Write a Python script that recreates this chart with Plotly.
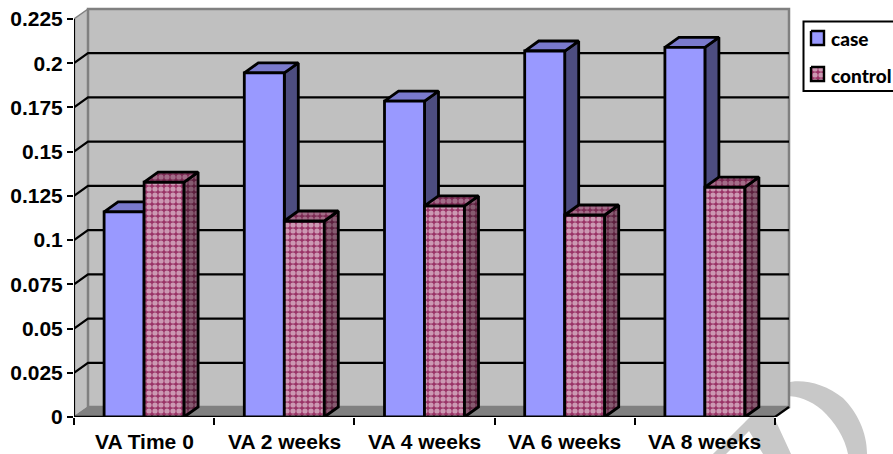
import plotly.graph_objects as go

categories = ["VA Time 0", "VA 2 weeks", "VA 4 weeks", "VA 6 weeks", "VA 8 weeks"]
case_values = [0.116, 0.1945, 0.1786, 0.2069, 0.209]
control_values = [0.1328, 0.1108, 0.1193, 0.1142, 0.13]
y_ticks = [0, 0.025, 0.05, 0.075, 0.1, 0.125, 0.15, 0.175, 0.2, 0.225]
y_labels = ["0", "0.025", "0.05", "0.075", "0.1", "0.125", "0.15", "0.175", "0.2", "0.225"]
series_names = ["case", "control"]

W, H = 893, 454
X0, X1, Y0, Y1 = 74, 789, 417, 9
CAT_W = 140.2
PX_PER_Y = 398 / 0.225
DX = 14 / CAT_W
DY = 10 / PX_PER_Y
BAR = 40 / CAT_W
WALL_R = (X1 - X0) / CAT_W
XMAX = (W - X0) / CAT_W
YMAX = (Y0 - Y1) / PX_PER_Y
YTOP = Y0 / PX_PER_Y
INK = "#000000"
WALL = "#C0C0C0"
EDGE = 2.8


def px_x(p):
    return (p - X0) / CAT_W


def px_y(p):
    return (Y0 - p) / PX_PER_Y


def poly(xs, ys, fill, z, line=INK, lw=EDGE, pattern=None):
    return go.Scatter(x=xs, y=ys, mode="lines", fill="toself", fillcolor=fill,
                      fillpattern=pattern, line=dict(color=line, width=lw),
                      hoverinfo="skip", showlegend=False, zorder=z)


def seg(xs, ys, color=INK, lw=2.2, z=1):
    return go.Scatter(x=xs, y=ys, mode="lines", line=dict(color=color, width=lw),
                      hoverinfo="skip", showlegend=False, zorder=z)


def pat(fg, bg):
    return dict(shape=".", fgcolor=fg, bgcolor=bg, size=6, solidity=0.6)


fig = go.Figure()
fig.add_trace(poly([0, DX, DX, 0, 0], [0, DY, YMAX, YMAX - DY, 0], WALL, 0, "#808080", 1.5))
fig.add_trace(poly([DX, WALL_R, WALL_R, DX, DX], [DY, DY, YMAX, YMAX, DY], WALL, 0, "#808080", 2.5))
fig.add_trace(poly([0, WALL_R - DX, WALL_R, DX, 0], [0, 0, DY, DY, 0], "#808080", 0, "#808080", 1))
for v in y_ticks[1:-1]:
    fig.add_trace(seg([0, DX, WALL_R], [v, v + DY, v + DY]))
fig.add_trace(seg([0, 0], [0, y_ticks[-1]], z=1))
fig.add_trace(seg([0, WALL_R - DX], [0, 0], lw=2.6, z=1))
fig.add_trace(seg([WALL_R - DX, WALL_R], [0, DY], z=1))

cat_x = [i + 0.5 for i in range(len(categories))]
ctrl_pat = pat("#FFFFFF", "#993366")
ctrl_side = pat("#B098A4", "#5C1F3D")
ctrl_top = pat("#CCB0BE", "#7A2952")

for i, x in enumerate(cat_x):
    v = case_values[i]
    fig.add_trace(poly([x, x + DX, x + DX, x, x], [0, DY, v + DY, v, 0], "#4D4D80", 2))
    fig.add_trace(poly([x - BAR, x - BAR + DX, x + DX, x, x - BAR], [v, v + DY, v + DY, v, v], "#7A7ACC", 2))
    v = control_values[i]
    r = x + BAR
    fig.add_trace(poly([r, r + DX, r + DX, r, r], [0, DY, v + DY, v, 0], "#5C1F3D", 5, pattern=ctrl_side))
    fig.add_trace(poly([x, x + DX, r + DX, r, x], [v, v + DY, v + DY, v, v], "#7A2952", 5, pattern=ctrl_top))

fig.add_trace(go.Bar(x=cat_x, y=case_values, name=series_names[0], width=BAR, offset=-BAR, zorder=3,
                     showlegend=False,
                     marker=dict(color="#9999FF", line=dict(color=INK, width=EDGE))))
fig.add_trace(go.Bar(x=cat_x, y=control_values, name=series_names[1], width=BAR, offset=0, zorder=4,
                     showlegend=False,
                     marker=dict(color="#993366", pattern=ctrl_pat, line=dict(color=INK, width=EDGE))))

# legend box and swatches
lx0, lx1, ly0, ly1 = px_x(803.5), px_x(900), px_y(21.5), px_y(91)
fig.add_trace(seg([lx1, lx0, lx0, lx1], [ly0, ly0, ly1, ly1], lw=2, z=6))
sw = [(811, 824, 31, 45), (811, 824, 67, 81)]
fig.add_trace(poly([px_x(sw[0][0]), px_x(sw[0][1]), px_x(sw[0][1]), px_x(sw[0][0]), px_x(sw[0][0])],
                   [px_y(sw[0][2]), px_y(sw[0][2]), px_y(sw[0][3]), px_y(sw[0][3]), px_y(sw[0][2])],
                   "#9999FF", 6, lw=2.4))
fig.add_trace(poly([px_x(sw[1][0]), px_x(sw[1][1]), px_x(sw[1][1]), px_x(sw[1][0]), px_x(sw[1][0])],
                   [px_y(sw[1][2]), px_y(sw[1][2]), px_y(sw[1][3]), px_y(sw[1][3]), px_y(sw[1][2])],
                   "#993366", 6, lw=2.4, pattern=ctrl_pat))
for name, py in zip(series_names, [38, 75]):
    fig.add_annotation(x=px_x(829), y=px_y(py), xanchor="left", yanchor="middle",
                       text=name, showarrow=False,
                       font=dict(size=19, family="Lato", color=INK, weight=900))


def paper_path(cmds):
    out = []
    for c in cmds:
        if isinstance(c, str):
            out.append(c)
        else:
            out.append(f"{(c[0] - X0) / (W - X0):.4f},{(Y0 - c[1]) / Y0:.4f}")
    return " ".join(out)


# grey watermark remnants that show around the chart
arc = ["M", (786, 383), "C", (800, 378), (825, 383), (843, 398), "C", (857, 412), (867, 432), (867, 454),
       "L", (848, 454), "C", (845, 438), (835, 422), (822, 410), "C", (810, 400), (798, 396), (786, 396), "Z"]
wedge = ["M", (745, 422), "L", (752, 415), "L", (773, 415), "L", (791, 454), "L", (763, 454),
         "L", (749, 431), "L", (726, 454), "L", (713, 454), "Z"]
fig.update_layout(
    width=W, height=H, barmode="overlay", plot_bgcolor="rgba(0,0,0,0)", paper_bgcolor="white",
    margin=dict(l=X0, r=0, t=0, b=H - Y0, autoexpand=False),
    font=dict(family="Liberation Sans", color=INK),
    showlegend=False,
    shapes=[dict(type="path", path=paper_path(p), xref="paper", yref="paper",
                 fillcolor="#C8C8C8", line_width=0, layer="below") for p in (arc, wedge)],
)
fig.update_xaxes(range=[0, XMAX], showgrid=False, zeroline=False, showline=False,
                 tickmode="array", tickvals=[0, 1, 2, 3, 4, 5], ticktext=[""] * 6,
                 ticks="outside", ticklen=7, tickwidth=2, tickcolor=INK)
fig.update_yaxes(range=[0, YTOP], showgrid=False, zeroline=False, showline=False,
                 tickmode="array", tickvals=y_ticks, ticktext=y_labels,
                 ticks="outside", ticklen=6, tickwidth=2.2, tickcolor=INK,
                 tickfont=dict(size=21, family="Liberation Sans", weight="bold"))
for x, c in zip(cat_x, categories):
    fig.add_annotation(x=x, y=0, yshift=-11, yanchor="top", text=f"<b>{c}</b>", showarrow=False,
                       font=dict(size=21, family="Liberation Sans"))

fig.write_html("out.html", config={"displayModeBar": False},
               post_script="document.body.style.margin='0';")
